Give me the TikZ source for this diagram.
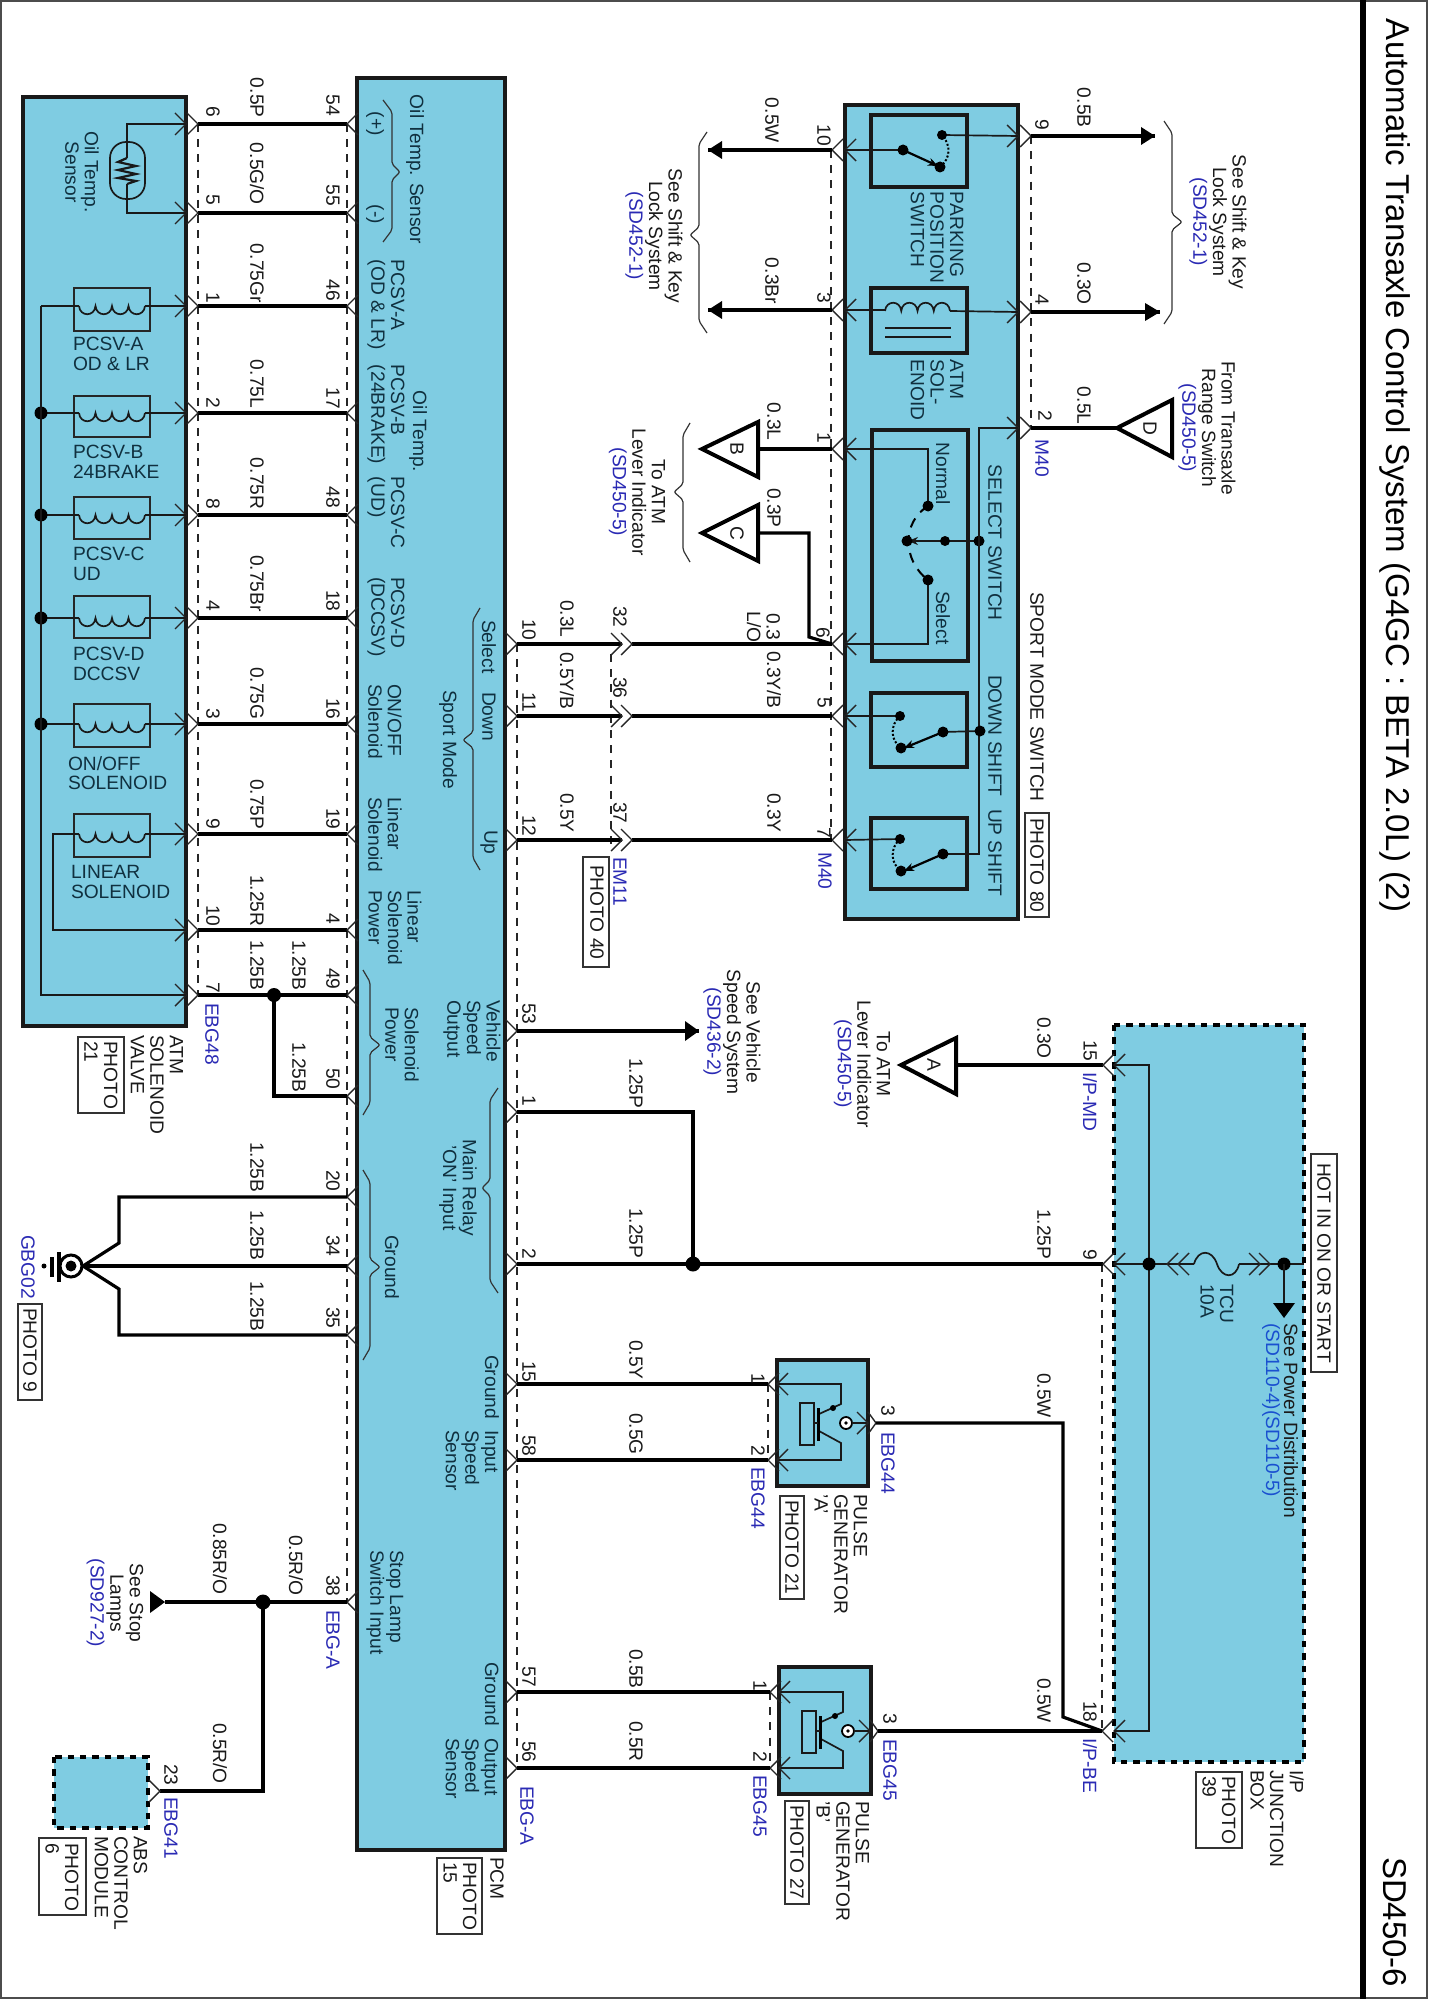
\documentclass[tikz,border=0pt]{standalone}
\usepackage{fontspec}
\setmainfont{Liberation Sans}
\usetikzlibrary{arrows.meta}
\definecolor{boxblue}{HTML}{7FCCE2}
\definecolor{wblue}{HTML}{2A2AB4}
\definecolor{bblue}{HTML}{1A50D0}
\definecolor{intext}{HTML}{10303F}
\definecolor{outtext}{HTML}{1A1A1A}
\newcounter{tn}
\tikzset{
 lab/.style={inner sep=0pt,outer sep=0pt,text=outtext,font=\fontsize{9.6}{9.8}\selectfont},
 rt/.style={lab,rotate=-90},
 inn/.style={text=intext},
 blu/.style={text=wblue},
 wire/.style={line width=1.6pt,draw=black,line join=miter},
 thinw/.style={line width=0.85pt,draw=black!90},
 chev/.style={line width=0.7pt,draw=black!85},
 modbox/.style={line width=2.2pt,draw=black!90,fill=boxblue},
 dashbox/.style={line width=2.1pt,draw=black,fill=boxblue,dash pattern=on 3.2pt off 3pt},
 inbox/.style={line width=2.2pt,draw=black!90},
 solbox/.style={line width=1pt,draw=black!85},
 photobox/.style={line width=0.7pt,draw=black!80},
 brace/.style={line width=0.6pt,draw=black!80,rounded corners=1pt},
 dashw/.style={line width=0.7pt,draw=black!85,dash pattern=on 4pt off 3.6pt},
 offp/.style={line width=2pt,draw=black,fill=white,line join=miter},
}
\newcommand\lblS[4][]{\stepcounter{tn}\node[rt,anchor=west,align=left,#1] (t\arabic{tn}) at (#2,#3) {#4};}
\newcommand\lblC[4][]{\stepcounter{tn}\node[rt,anchor=center,align=center,#1] (t\arabic{tn}) at (#2,#3) {#4};}
\newcommand\lblH[4][]{\stepcounter{tn}\node[lab,inn,anchor=west,align=left,#1] (t\arabic{tn}) at (#2,#3) {#4};}
\newcommand\sock[3]{\draw[chev] (#1+#3*11,#2-11) -- (#1,#2) -- (#1+#3*11,#2+11);}
\newcommand\dotJ[3]{\fill[black] (#1,#2) circle (#3);}
\newcommand\brc[6]{\draw[brace] (#2,#4) -- (#1,#4+12) -- (#1,#5-8) -- (#3,#5) -- (#1,#5+8) -- (#1,#6-12) -- (#2,#6);}
\newcommand\coilW[4]{\draw[thinw] (#1,#2) .. controls (#1+1,#2+#4) and (#1+#3-1,#2+#4) .. (#1+#3,#2)
 .. controls (#1+#3+1,#2+#4) and (#1+2*#3-1,#2+#4) .. (#1+2*#3,#2)
 .. controls (#1+2*#3+1,#2+#4) and (#1+3*#3-1,#2+#4) .. (#1+3*#3,#2)
 .. controls (#1+3*#3+1,#2+#4) and (#1+4*#3-1,#2+#4) .. (#1+4*#3,#2);}
\newcommand\arrowH[4]{\fill[black] (#1,#2) -- (#3,#2-#4) -- (#3,#2+#4) -- cycle;}
\newcommand\photoB[4]{\draw[photobox] (#1,#2) rectangle (#3,#4);}
\begin{document}
\begin{tikzpicture}[x=0.5pt,y=-0.5pt]
\useasboundingbox (0,0) rectangle (1428,2000);
\fill[white] (0,0) rectangle (1428,2000);
% frame
\draw[line width=0.9pt,draw=black!70] (1,1) rectangle (1427,1998);
\draw[line width=2.6pt,draw=black] (1363,0) -- (1363,1999);
\lblS[font=\fontsize{16.5}{18}\selectfont,text=black]{1395}{19}{Automatic Transaxle Control System (G4GC : BETA 2.0L) (2)}
\lblS[font=\fontsize{16.5}{18}\selectfont,text=black]{1395}{1857}{SD450-6}

% modules
\draw[modbox] (23,97) rectangle (186,1026);
\draw[modbox] (357,78) rectangle (505,1850);
\draw[modbox] (845,105) rectangle (1018,919);
\draw[modbox] (777,1360) rectangle (868,1486);
\draw[modbox] (779,1667) rectangle (871,1794);
\fill[boxblue] (1114,1025) rectangle (1304,1762);
\draw[dashbox] (1114,1025) rectangle (1304,1762);
\fill[boxblue] (54,1757) rectangle (148,1828);
\draw[dashbox] (54,1757) rectangle (148,1828);

\draw[dashw] (198,124) -- (198,995);
\draw[dashw] (347,124) -- (347,1602);
\draw[dashw] (517,644) -- (517,1768);
\draw[dashw] (611,654) -- (611,850);
\draw[dashw] (831,150) -- (831,840);
\draw[dashw] (1031,136) -- (1031,428);
\draw[dashw] (1102,1264) -- (1102,1731);
\draw[dashw] (768,1384) -- (768,1460);
\draw[dashw] (770,1692) -- (770,1768);

% valve block to PCM
\foreach \a/\p/\y in {6/54/124,5/55/213,1/46/306,2/17/413,8/48/515,4/18/618,3/16/724,9/19/834,10/4/930,7/49/995}{
 \coordinate (a\a) at (198,\y);
 \coordinate (ain\a) at (186,\y);
 \coordinate (p\p) at (347,\y);
 \draw[wire] (a\a) -- (p\p);
 \sock{198}{\y}{-1}
 \sock{186}{\y}{-1}
 \sock{347}{\y}{1}
}
\foreach \p/\y in {50/1096,20/1197,34/1266,35/1335,38/1602}{
 \coordinate (p\p) at (347,\y);
 \sock{347}{\y}{1}
}
% solenoid power
\coordinate (jp) at (274,995);
\draw[wire] (jp) -- (274,1096) -- (p50);
\dotJ{274}{995}{7}
% ground
\coordinate (gnd) at (83,1266);
\draw[wire] (p20) -- (119,1197) -- (119,1243) -- (gnd);
\draw[wire] (p34) -- (gnd);
\draw[wire] (p35) -- (119,1335) -- (119,1289) -- (gnd);
\draw[line width=1.5pt,fill=white] (71,1266) circle (11);
\dotJ{71}{1266}{5.5}
\draw[line width=1.7pt] (59,1252) -- (59,1282);
\draw[line width=1.7pt] (52,1257) -- (52,1277);
\dotJ{44}{1266}{2.5}
% stop lamp
\coordinate (js) at (263,1602);
\coordinate (stoparrow) at (165,1602);
\coordinate (abs23) at (160,1791);
\draw[wire] (p38) -- (stoparrow);
\draw[wire] (js) -- (263,1791) -- (abs23);
\dotJ{263}{1602}{7.5}
\arrowH{165}{1602}{150}{11}
\sock{160}{1791}{-1}

% sensor
\draw[thinw] (ain6) -- (127,124) -- (127,213) -- (ain5);
\draw[thinw,fill=none,rounded corners=8pt] (110,142) rectangle (145,199);
\fill[boxblue] (121,158) rectangle (133,184);
\draw[thinw,line width=1.1pt] (127,158) -- (118,162) -- (136,166) -- (118,170) -- (136,174) -- (118,178) -- (136,181) -- (127,184);
% solenoid coils
\foreach \t/\b/\y in {288/331/306,396/437/413,497/539/515,596/638/618,704/747/724,814/857/834}{
 \draw[solbox] (74,\t) rectangle (150,\b);
 \draw[thinw] (145,\y) -- (186,\y);
 \coilW{79}{\y}{16.5}{11}
}
\draw[thinw] (41,306) -- (79,306);
\foreach \y in {413,515,618,724}{\draw[thinw] (41,\y) -- (79,\y); \dotJ{41}{\y}{6.5}}
\draw[thinw] (79,834) -- (53,834) -- (53,930) -- (ain10);
\draw[thinw] (41,306) -- (41,995) -- (ain7);

% PCM right side pins
\foreach \n/\y in {10/644,11/716,12/840,53/1031,1/1112,2/1264,15/1384,58/1460,57/1692,56/1768}{
 \coordinate (q\n) at (517,\y);
 \sock{517}{\y}{-1}
}
% sport mode switch pins
\foreach \n/\y in {10/150,3/310,1/449,6/644,5/716,7/840}{
 \coordinate (m\n) at (832,\y);
 \coordinate (mi\n) at (845,\y);
 \sock{832}{\y}{1}
 \sock{845}{\y}{1}
}
\foreach \n/\y in {9/136,4/312,2/428}{
 \coordinate (m\n) at (1031,\y);
 \coordinate (mi\n) at (1018,\y);
 \sock{1031}{\y}{-1}
 \sock{1018}{\y}{-1}
}
% wires with inline connector EM11
\foreach \n/\m/\y in {10/6/644,11/5/716,12/7/840}{
 \coordinate (xa\n) at (622,\y);
 \coordinate (xb\n) at (632,\y);
 \draw[wire] (q\n) -- (xa\n);
 \draw[wire] (xb\n) -- (m\m);
 \sock{622}{\y}{-1}
 \sock{632}{\y}{-1}
}
% outgoing
\coordinate (arr10) at (708,150);
\coordinate (arr3) at (708,310);
\draw[wire] (m10) -- (arr10); \arrowH{708}{150}{722}{9}
\draw[wire] (m3) -- (arr3); \arrowH{708}{310}{722}{9}
\coordinate (arr9) at (1155,136);
\coordinate (arr4) at (1160,312);
\draw[wire] (m9) -- (arr9); \arrowH{1155}{136}{1141}{9}
\draw[wire] (m4) -- (arr4); \arrowH{1160}{312}{1145}{9}
% off-page triangles
\coordinate (triB) at (758,449);
\coordinate (triC) at (758,533);
\coordinate (triD) at (1117,428);
\coordinate (triA) at (956,1065);
\draw[wire] (triB) -- (m1);
\draw[wire] (triC) -- (809,533) -- (809,637) -- (m6);
\draw[wire] (triD) -- (m2);
\draw[offp] (702,449) -- (758,422) -- (758,477) -- cycle;
\draw[offp] (702,533) -- (758,505) -- (758,561) -- cycle;
\draw[offp] (1117,428) -- (1172,400) -- (1172,457) -- cycle;
\draw[offp] (901,1065) -- (956,1038) -- (956,1094) -- cycle;
\lblC{737}{449}{B}
\lblC{737}{533}{C}
\lblC{1150}{428}{D}
\lblC{934}{1065}{A}
% switch blocks
\draw[inbox] (871,115) rectangle (967,187);
\draw[inbox] (871,288) rectangle (967,353);
\draw[inbox] (872,430) rectangle (968,661);
\draw[inbox] (871,693) rectangle (967,767);
\draw[inbox] (871,818) rectangle (967,889);
% parking switch
\draw[thinw] (mi10) -- (903,150);
\draw[thinw] (942,135) -- (mi9);
\draw[line width=1.1pt,-{Stealth[length=5pt,width=4pt]}] (903,150) -- (938,166);
\draw[line width=1pt,densely dotted] (940,167) .. controls (951,158) and (951,145) .. (942,135);
\dotJ{903}{150}{5.5}\dotJ{940}{167}{5.5}\dotJ{942}{135}{5}
% ATM solenoid
\draw[thinw] (mi3) -- (885,310);
\draw[thinw] (950,311) -- (mi4);
\coilW{885}{311}{16.25}{-11}
\draw[thinw] (885,328) -- (951,328);
\draw[thinw] (885,337) -- (951,337);
% select switch
\draw[thinw] (mi1) -- (928,449) -- (928,506);
\draw[thinw] (mi6) -- (928,644) -- (928,580);
\draw[line width=1pt,dash pattern=on 5pt off 4pt] (928,506) .. controls (902,522) and (902,560) .. (928,580);
\draw[thinw,-{Stealth[length=5pt,width=4pt]}] (979,541) -- (908,541);
\dotJ{928}{506}{5.5}\dotJ{928}{580}{5.5}\dotJ{907}{541}{5.5}\dotJ{945}{541}{5}\dotJ{979}{541}{5.5}
% bus
\draw[thinw] (mi2) -- (979,428) -- (979,854) -- (943,854);
\draw[thinw] (943,732) -- (980,731);
\dotJ{980}{731}{5.5}
% down shift
\draw[thinw] (mi5) -- (900,716);
\draw[line width=1.1pt,-{Stealth[length=5pt,width=4pt]}] (943,732) -- (904,748);
\draw[line width=1pt,densely dotted] (900,716) .. controls (890,725) and (890,740) .. (901,748);
\dotJ{900}{716}{5}\dotJ{901}{748}{5.5}\dotJ{943}{732}{5.5}
% up shift
\draw[thinw] (mi7) -- (900,839);
\draw[line width=1.1pt,-{Stealth[length=5pt,width=4pt]}] (943,854) -- (904,871);
\draw[line width=1pt,densely dotted] (900,839) .. controls (890,848) and (890,863) .. (901,871);
\dotJ{900}{839}{5}\dotJ{901}{871}{5.5}\dotJ{943}{854}{5.5}

% vehicle speed / main relay
\coordinate (arr53) at (699,1031);
\draw[wire] (q53) -- (arr53); \arrowH{699}{1031}{685}{10}
\coordinate (j12) at (693,1264);
\coordinate (ip9) at (1103,1264);
\coordinate (ip15) at (1103,1065);
\coordinate (ip18) at (1102,1731);
\draw[wire] (q1) -- (693,1112) -- (j12);
\draw[wire] (q2) -- (ip9);
\dotJ{693}{1264}{7.5}
\draw[wire] (triA) -- (ip15);
\sock{1103}{1065}{1}\sock{1114}{1065}{1}
\sock{1103}{1264}{1}\sock{1114}{1264}{1}
\sock{1102}{1731}{1}\sock{1114}{1731}{1}
% IP box inside
\draw[thinw] (1114,1065) -- (1149,1065) -- (1149,1731) -- (1114,1731);
\draw[thinw] (1114,1264) -- (1194,1264);
\dotJ{1149}{1264}{6.5}
\sock{1167}{1264}{1}\sock{1178}{1264}{1}
\draw[thinw] (1194,1264) .. controls (1198,1249) and (1212,1249) .. (1217,1264) .. controls (1222,1279) and (1236,1279) .. (1239,1264);
\draw[thinw] (1239,1264) -- (1304,1264);
\sock{1260}{1264}{-1}\sock{1270}{1264}{-1}
\dotJ{1284}{1264}{6.5}
\draw[thinw] (1284,1264) -- (1284,1305);
\fill[black] (1284,1318) -- (1273,1303) -- (1295,1303) -- cycle;

% pulse generators
\foreach \dx/\dy in {0/0,2/308}{
 \begin{scope}[shift={(\dx,\dy)}]
 \draw[thinw] (777,1384) -- (841,1384) -- (841,1404) -- (819,1414);
 \draw[thinw] (819,1431) -- (841,1443) -- (841,1460) -- (777,1460);
 \fill[black] (833,1408) circle (3);
 \draw[thinw] (800,1403) rectangle (814,1445);
 \draw[line width=1.3pt] (818.5,1408) -- (818.5,1441);
 \draw[thinw] (814,1423) -- (818,1423);
 \draw[line width=0.9pt,fill=white] (846,1423) circle (6);
 \fill[black] (846,1423) circle (1.8);
 \draw[thinw] (852,1423) -- (868,1423);
 \sock{768}{1384}{1}\sock{777}{1384}{1}
 \sock{768}{1460}{1}\sock{777}{1460}{1}
 \sock{868}{1423}{-1}
 \draw[chev] (868,1412) -- (876,1423) -- (868,1434);
 \end{scope}
}
\coordinate (ga1) at (768,1384);
\coordinate (ga2) at (768,1460);
\coordinate (gb1) at (770,1692);
\coordinate (gb2) at (770,1768);
\coordinate (ga3) at (876,1423);
\coordinate (gb3) at (878,1731);
\draw[wire] (q15) -- (ga1);
\draw[wire] (q58) -- (ga2);
\draw[wire] (q57) -- (gb1);
\draw[wire] (q56) -- (gb2);
\draw[wire] (ga3) -- (1063,1423) -- (1063,1717) -- (ip18);
\draw[wire] (gb3) -- (ip18);

% braces
\brc{392}{383}{400}{100}{172}{242}
\brc{473}{480}{463}{608}{740}{870}
\brc{370}{363}{380}{970}{1045}{1115}
\brc{490}{498}{482}{1088}{1188}{1293}
\brc{370}{363}{380}{1170}{1267}{1360}
\brc{699}{707}{690}{132}{235}{333}
\brc{683}{690}{674}{423}{492}{562}
\brc{1172}{1164}{1182}{121}{222}{324}

% photo boxes
\photoB{78}{1037}{124}{1113}
\photoB{18}{1304}{42}{1400}
\photoB{39}{1838}{86}{1915}
\photoB{437}{1858}{482}{1934}
\photoB{583}{857}{609}{967}
\photoB{780}{1496}{804}{1599}
\photoB{785}{1801}{809}{1904}
\photoB{1025}{813}{1049}{917}
\photoB{1196}{1772}{1242}{1848}
\photoB{1311}{1154}{1337}{1372}

% text: valve block
\lblC[inn]{82}{172}{Oil Temp.\\Sensor}
\lblH{73}{354}{PCSV-A\\OD \& LR}
\lblH{73}{462}{PCSV-B\\24BRAKE}
\lblH{73}{564}{PCSV-C\\UD}
\lblH{73}{664}{PCSV-D\\DCCSV}
\lblH{68}{773}{ON/OFF\\SOLENOID}
\lblH{71}{882}{LINEAR\\SOLENOID}
\lblS{157}{1035}{ATM\\SOLENOID\\VALVE}
\lblS{101}{1041}{PHOTO\\21}
\lblS[blu]{212}{1003}{EBG48}
\lblS[blu]{28}{1235}{GBG02}
\lblS{30}{1308}{PHOTO 9}
% pin numbers
\lblS{213}{107}{6}\lblS{213}{195}{5}\lblS{213}{293}{1}\lblS{213}{398}{2}\lblS{213}{498}{8}
\lblS{213}{600}{4}\lblS{213}{708}{3}\lblS{213}{818}{9}\lblS{213}{905}{10}\lblS{213}{982}{7}
\lblS{333}{95}{54}\lblS{333}{185}{55}\lblS{333}{280}{46}\lblS{333}{388}{17}\lblS{333}{487}{48}
\lblS{333}{590}{18}\lblS{333}{698}{16}\lblS{333}{808}{19}\lblS{333}{913}{4}\lblS{333}{968}{49}
\lblS{333}{1068}{50}\lblS{333}{1170}{20}\lblS{333}{1235}{34}\lblS{333}{1307}{35}\lblS{333}{1575}{38}
% wire sizes
\lblS{257}{78}{0.5P}\lblS{257}{143}{0.5G/O}\lblS{257}{244}{0.75Gr}\lblS{257}{360}{0.75L}
\lblS{257}{458}{0.75R}\lblS{257}{555}{0.75Br}\lblS{257}{667}{0.75G}\lblS{257}{779}{0.75P}
\lblS{257}{875}{1.25R}\lblS{257}{940}{1.25B}\lblS{299}{940}{1.25B}\lblS{299}{1042}{1.25B}
\lblS{257}{1142}{1.25B}\lblS{257}{1210}{1.25B}\lblS{257}{1281}{1.25B}
\lblS{220}{1523}{0.85R/O}\lblS{296}{1535}{0.5R/O}\lblS{220}{1723}{0.5R/O}
\lblS{171}{1764}{23}\lblS[blu]{171}{1797}{EBG41}\lblS[blu]{333}{1610}{EBG-A}
\lblC{115}{1603}{See Stop\\Lamps\\\textcolor{wblue}{(SD927-2)}}
\lblS{121}{1836}{ABS\\CONTROL\\MODULE}
\lblS{62}{1843}{PHOTO\\6}
% text: PCM
\lblS[inn]{415}{95}{Oil Temp. Sensor}
\lblS[inn]{375}{112}{(+)}
\lblS[inn]{375}{205}{(-)}
\lblS[inn]{386}{260}{PCSV-A\\(OD \& LR)}
\lblS[inn]{386}{365}{PCSV-B\\(24BRAKE)}
\lblS[inn]{418}{391}{Oil Temp.}
\lblS[inn]{386}{477}{PCSV-C\\(UD)}
\lblS[inn]{386}{577}{PCSV-D\\(DCCSV)}
\lblS[inn]{385}{684}{ON/OFF\\Solenoid}
\lblS[inn]{385}{797}{Linear\\Solenoid}
\lblS[inn]{395}{890}{Linear\\Solenoid\\Power}
\lblS[inn]{489}{620}{Select}
\lblS[inn]{489}{692}{Down}
\lblS[inn]{489}{830}{Up}
\lblS[inn]{448}{690}{Sport Mode}
\lblS[inn]{402}{1007}{Solenoid\\Power}
\lblS[inn]{472}{1000}{Vehicle\\Speed\\Output}
\lblC[inn]{458}{1188}{Main Relay\\'ON' Input}
\lblS[inn]{392}{1235}{Ground}
\lblS[inn]{492}{1355}{Ground}
\lblS[inn]{472}{1430}{Input\\Speed\\Sensor}
\lblS[inn]{492}{1662}{Ground}
\lblS[inn]{472}{1738}{Output\\Speed\\Sensor}
\lblS[inn]{385}{1550}{Stop Lamp\\Switch Input}
\lblS{497}{1857}{PCM}
\lblS{460}{1862}{PHOTO\\15}
% text: right of PCM
\lblS{529}{619}{10}\lblS{567}{600}{0.3L}\lblS{620}{606}{32}
\lblS{529}{692}{11}\lblS{567}{652}{0.5Y/B}\lblS{620}{677}{36}
\lblS{529}{815}{12}\lblS{567}{793}{0.5Y}\lblS{620}{802}{37}
\lblS[blu]{620}{857}{EM11}
\lblS{597}{865}{PHOTO 40}
\lblS{529}{1003}{53}\lblS{529}{1095}{1}\lblS{529}{1248}{2}
\lblS{529}{1361}{15}\lblS{529}{1435}{58}\lblS{529}{1666}{57}\lblS{529}{1741}{56}
\lblS[blu]{527}{1786}{EBG-A}
\lblS{636}{1058}{1.25P}\lblS{636}{1208}{1.25P}\lblS{636}{1340}{0.5Y}\lblS{636}{1413}{0.5G}
\lblS{636}{1649}{0.5B}\lblS{636}{1721}{0.5R}
\lblC{732}{1032}{See Vehicle\\Speed System\\\textcolor{wblue}{(SD436-2)}}
% text: sport mode
\lblS{772}{98}{0.5W}\lblS{824}{125}{10}\lblS{772}{258}{0.3Br}\lblS{824}{293}{3}
\lblS{774}{403}{0.3L}\lblS{824}{433}{1}\lblS{774}{488}{0.3P}
\lblC{763.5}{627}{0.3\\L/O}\lblS{823}{627}{6}
\lblS{774}{651}{0.3Y/B}\lblS{824}{697}{5}
\lblS{774}{793}{0.3Y}\lblS{824}{827}{7}
\lblS[blu]{825}{852}{M40}
\lblC{654}{236}{See Shift \& Key\\Lock System\\\textcolor{wblue}{(SD452-1)}}
\lblC{637}{492}{To ATM\\Lever Indicator\\\textcolor{wblue}{(SD450-5)}}
\lblS[inn]{937}{192}{PARKING\\POSITION\\SWITCH}
\lblS[inn]{937}{360}{ATM\\SOL-\\ENOID}
\lblS[inn]{943}{443}{Normal}
\lblS[inn]{943}{591}{Select}
\lblS[inn]{995}{465}{SELECT SWITCH}
\lblS[inn]{995}{675}{DOWN SHIFT}
\lblS[inn]{995}{809}{UP SHIFT}
\lblS{1037}{592}{SPORT MODE SWITCH}
\lblS{1037}{818}{PHOTO 80}
\lblS{1042}{120}{9}\lblS{1084}{88}{0.5B}\lblS{1042}{295}{4}\lblS{1084}{263}{0.3O}
\lblS{1045}{411}{2}\lblS{1084}{387}{0.5L}\lblS[blu]{1042}{440}{M40}
\lblC{1218}{222}{See Shift \& Key\\Lock System\\\textcolor{wblue}{(SD452-1)}}
\lblC{1207}{428}{From Transaxle\\Range Switch\\\textcolor{wblue}{(SD450-5)}}
% text: pulse generators
\lblS{758}{1373}{1}\lblS{758}{1445}{2}\lblS[blu]{758}{1467}{EBG44}
\lblS{888}{1405}{3}\lblS[blu]{888}{1432}{EBG44}
\lblS{841}{1494}{PULSE\\GENERATOR\\'A'}
\lblS{792}{1500}{PHOTO 21}
\lblS{760}{1680}{1}\lblS{760}{1751}{2}\lblS[blu]{760}{1775}{EBG45}
\lblS{890}{1713}{3}\lblS[blu]{890}{1739}{EBG45}
\lblS{843}{1801}{PULSE\\GENERATOR\\'B'}
\lblS{797}{1805}{PHOTO 27}
% text: junction box
\lblS{1044}{1017}{0.3O}\lblS{1090}{1040}{15}\lblS[blu]{1090}{1072}{I/P-MD}
\lblC{862}{1064}{To ATM\\Lever Indicator\\\textcolor{wblue}{(SD450-5)}}
\lblS{1044}{1209}{1.25P}\lblS{1090}{1249}{9}
\lblS{1044}{1373}{0.5W}\lblS{1044}{1678}{0.5W}\lblS{1090}{1701}{18}\lblS[blu]{1090}{1738}{I/P-BE}
\lblS[inn]{1217}{1284}{TCU\\10A}
\lblS{1291}{1323}{See Power Distribution}
\lblS[text=bblue]{1271}{1323}{(SD110-4)(SD110-5)}
\lblC{1324}{1263}{HOT IN ON OR START}
\lblS{1277}{1770}{I/P\\JUNCTION\\BOX}
\lblS{1219}{1776}{PHOTO\\39}
\end{tikzpicture}
\end{document}
